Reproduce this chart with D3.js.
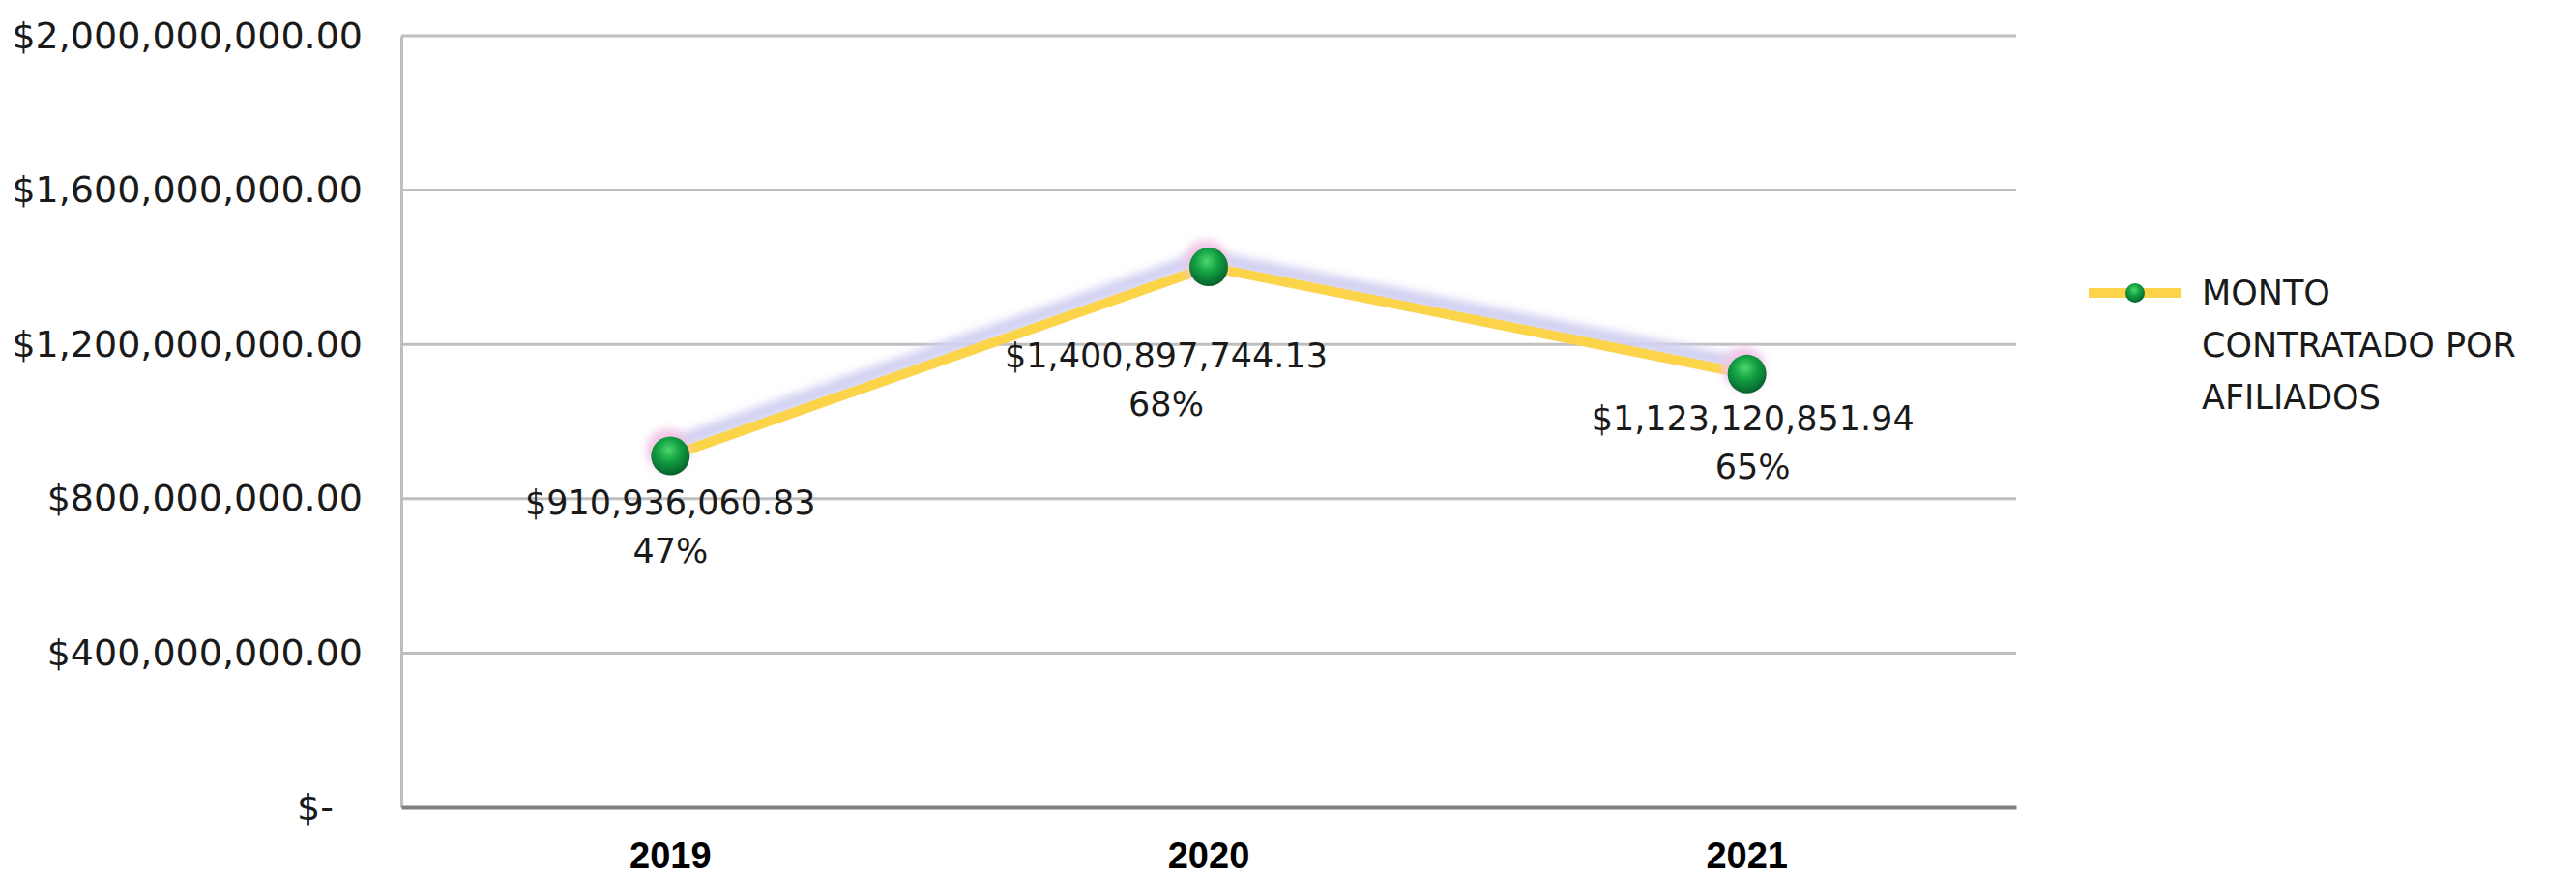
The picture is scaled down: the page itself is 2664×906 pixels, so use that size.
<!DOCTYPE html>
<html>
<head>
<meta charset="utf-8">
<script src="https://cdn.jsdelivr.net/npm/d3@7"></script>
<style>
  body { margin: 0; background: #fff; }
  svg { display: block; }
</style>
</head>
<body>
<svg id="chart" width="2664" height="906"></svg>
<script>
"use strict";

// Chart data
var years = ["2019", "2020", "2021"];
var montos = [910936060.83, 1400897744.13, 1123120851.94];
var porcentajes = ["47%", "68%", "65%"];
var yTicks = [0, 400000000, 800000000, 1200000000, 1600000000, 2000000000];
var seriesName = ["MONTO", "CONTRATADO POR", "AFILIADOS"];

// Label nudges (layout only)
var labelDx = [0, -44, 6];
var labelDy = [48, 92, 46];

var svg = d3.select("#chart"),
    margin = {top: 37, right: 579, bottom: 71, left: 415},
    width = +svg.attr("width") - margin.left - margin.right,
    height = +svg.attr("height") - margin.top - margin.bottom,
    g = svg.append("g").attr("transform", "translate(" + margin.left + "," + margin.top + ")");

var font = "'DejaVu Sans', sans-serif";

var x = d3.scaleBand().domain(years).range([0, width]);
var y = d3.scaleLinear().domain([0, 2000000000]).range([height, 0]);

var money = d3.format("$,.2f");

var defs = svg.append("defs");

var grad = defs.append("radialGradient")
    .attr("id", "ball")
    .attr("cx", "45%").attr("cy", "35%").attr("r", "65%");
grad.append("stop").attr("offset", "0%").attr("stop-color", "#4fd66e");
grad.append("stop").attr("offset", "45%").attr("stop-color", "#14a143");
grad.append("stop").attr("offset", "100%").attr("stop-color", "#05612b");

defs.append("filter").attr("id", "blur")
    .attr("x", "-20%").attr("y", "-20%").attr("width", "140%").attr("height", "140%")
  .append("feGaussianBlur").attr("stdDeviation", 4);

// gridlines
g.append("g")
  .selectAll("line")
  .data(yTicks.slice(1))
  .enter().append("line")
    .attr("x1", 0)
    .attr("x2", width)
    .attr("y1", function(d) { return y(d); })
    .attr("y2", function(d) { return y(d); })
    .attr("stroke", "#bfbfbf")
    .attr("stroke-width", 3);

// y axis
var yAxis = d3.axisLeft(y)
    .tickValues(yTicks)
    .tickSize(0)
    .tickPadding(40)
    .tickFormat(function(d) { return d === 0 ? "$-" : money(d); });

var yg = g.append("g").call(yAxis);
yg.select(".domain").attr("stroke", "#bfbfbf").attr("stroke-width", 3);
yg.selectAll("text")
    .attr("font-family", font)
    .attr("font-size", 38)
    .attr("fill", "#1a1a1a")
    .attr("dx", function(d) { return d === 0 ? -30 : 0; });

// x axis
var xAxis = d3.axisBottom(x).tickSize(0).tickPadding(36);
var xg = g.append("g")
    .attr("transform", "translate(0," + height + ")")
    .call(xAxis);
xg.select(".domain").attr("stroke", "#808080").attr("stroke-width", 4);
xg.selectAll("text")
    .attr("font-family", "'Liberation Sans', Arial, sans-serif")
    .attr("font-weight", "bold")
    .attr("font-size", 38)
    .attr("fill", "#000");

var pts = years.map(function(yr, i) { return {year: yr, value: montos[i], pct: porcentajes[i], i: i}; });

var line = d3.line()
    .x(function(d) { return x(d.year) + x.bandwidth() / 2; })
    .y(function(d) { return y(d.value); });

// soft shadow under the line
g.append("path")
    .datum(pts)
    .attr("transform", "translate(-3,-10)")
    .attr("fill", "none")
    .attr("stroke", "#d3d1f2")
    .attr("stroke-width", 16)
    .attr("stroke-linejoin", "round")
    .attr("filter", "url(#blur)")
    .attr("d", line);

g.append("path")
    .datum(pts)
    .attr("fill", "none")
    .attr("stroke", "#fcd449")
    .attr("stroke-width", 10)
    .attr("stroke-linejoin", "round")
    .attr("d", line);

// marker glow
g.selectAll("circle.glow")
    .data(pts)
  .enter().append("circle")
    .attr("class", "glow")
    .attr("cx", function(d) { return x(d.year) + x.bandwidth() / 2 - 3; })
    .attr("cy", function(d) { return y(d.value) - 6; })
    .attr("r", 22)
    .attr("fill", "#f2c6e6")
    .attr("filter", "url(#blur)");

g.selectAll("circle.dot")
    .data(pts)
  .enter().append("circle")
    .attr("class", "dot")
    .attr("cx", function(d) { return x(d.year) + x.bandwidth() / 2; })
    .attr("cy", function(d) { return y(d.value); })
    .attr("r", 20)
    .attr("fill", "url(#ball)");

// data labels
var lbl = g.selectAll("text.lbl")
    .data(pts)
  .enter().append("text")
    .attr("class", "lbl")
    .attr("font-family", font)
    .attr("font-size", 35)
    .attr("fill", "#1a1a1a")
    .attr("text-anchor", "middle");

lbl.append("tspan")
    .attr("x", function(d) { return x(d.year) + x.bandwidth() / 2 + labelDx[d.i]; })
    .attr("y", function(d) { return y(d.value) + labelDy[d.i]; })
    .attr("dy", "0.35em")
    .text(function(d) { return money(d.value); });

lbl.append("tspan")
    .attr("x", function(d) { return x(d.year) + x.bandwidth() / 2 + labelDx[d.i]; })
    .attr("dy", 50)
    .text(function(d) { return d.pct; });

// legend
var legend = svg.append("g").attr("transform", "translate(2160,303)");
legend.append("line")
    .attr("x1", 0).attr("x2", 95)
    .attr("y1", 0).attr("y2", 0)
    .attr("stroke", "#fcd449")
    .attr("stroke-width", 10);
legend.append("circle")
    .attr("cx", 48).attr("cy", 0).attr("r", 10)
    .attr("fill", "url(#ball)");
legend.append("g")
  .selectAll("text")
  .data(seriesName)
  .enter().append("text")
    .attr("x", 117)
    .attr("y", function(d, i) { return i * 54; })
    .attr("dy", "0.35em")
    .attr("font-family", font)
    .attr("font-size", 35)
    .attr("fill", "#1a1a1a")
    .text(function(d) { return d; });
</script>
</body>
</html>
